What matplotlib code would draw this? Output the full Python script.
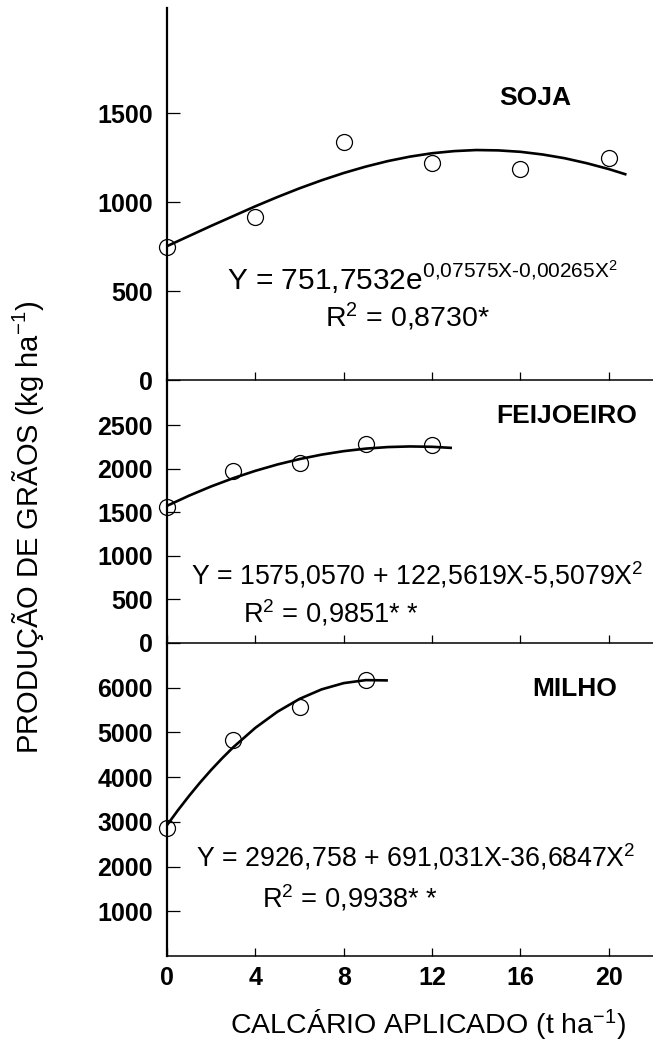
import matplotlib
matplotlib.use("Agg")
import matplotlib.pyplot as plt

plt.rcParams['font.family'] = ['Liberation Sans', 'DejaVu Sans']
plt.rcParams['mathtext.fontset'] = 'custom'
plt.rcParams['mathtext.rm'] = 'Liberation Sans'
plt.rcParams['mathtext.it'] = 'Liberation Sans'
plt.rcParams['mathtext.bf'] = 'Liberation Sans:bold'
plt.rcParams['mathtext.default'] = 'regular'

# ---------------- data ----------------
doses = [0, 4, 8, 12, 16, 20]
soja_obs = [745, 918, 1337, 1219, 1188, 1245]
soja_curve_x = [0, 1, 2, 3, 4, 5, 6, 7, 8, 9, 10, 11, 12, 13, 14, 15, 16, 17, 18, 19, 20, 20.8]
soja_curve_y = [752, 809, 866, 921, 976, 1028, 1077, 1122, 1163, 1199, 1230, 1255, 1274, 1286,
                1292, 1290, 1282, 1267, 1246, 1218, 1185, 1154]

feij_x = [0, 3, 6, 9, 12]
feij_obs = [1565, 1975, 2070, 2285, 2275]
feij_curve_x = [0, 1, 2, 3, 4, 5, 6, 7, 8, 9, 10, 11, 12, 12.9]
feij_curve_y = [1575, 1692, 1798, 1893, 1977, 2050, 2112, 2163, 2203, 2232, 2250, 2257, 2253, 2240]

milho_x = [0, 3, 6, 9]
milho_obs = [2870, 4830, 5570, 6180]
milho_curve_x = [0, 0.5, 1, 1.5, 2, 2.5, 3, 4, 5, 6, 7, 8, 9, 10]
milho_curve_y = [2927, 3263, 3581, 3881, 4162, 4424, 4669, 5103, 5463, 5750, 5963, 6103, 6170, 6163]

panels = [
    dict(name='SOJA', ox=doses, oy=soja_obs, cx=soja_curve_x, cy=soja_curve_y,
         ylim=2090, yticks=[0, 500, 1000, 1500],
         eq=r'Y = 751,7532e$^{\text{0,07575X-0,00265X}^{2}}$', r2=r'R$^2$ = 0,8730*',
         eqfs=21.5, r2fs=20.5,
         title_xy=(16.65, 1584), eq_xy=(2.7, 506), r2_xy=(7.15, 298)),
    dict(name='FEIJOEIRO', ox=feij_x, oy=feij_obs, cx=feij_curve_x, cy=feij_curve_y,
         ylim=3020, yticks=[0, 500, 1000, 1500, 2000, 2500],
         eq=r'Y = 1575,0570 + 122,5619X-5,5079X$^2$', r2=r'R$^2$ = 0,9851* *',
         eqfs=19.3, r2fs=19.6,
         title_xy=(18.1, 2609), eq_xy=(1.1, 667), r2_xy=(3.44, 241)),
    dict(name='MILHO', ox=milho_x, oy=milho_obs, cx=milho_curve_x, cy=milho_curve_y,
         ylim=7000, yticks=[1000, 2000, 3000, 4000, 5000, 6000],
         eq=r'Y = 2926,758 + 691,031X-36,6847X$^2$', r2=r'R$^2$ = 0,9938* *',
         eqfs=19.3, r2fs=19.6,
         title_xy=(18.46, 5973), eq_xy=(1.3, 1991), r2_xy=(4.3, 1074)),
]

W, H = 653, 1041
fig = plt.figure(figsize=(W / 100, H / 100), dpi=100)

left_px = 167
boxes = [(8, 380), (380, 643), (643, 956)]
xticks = [0, 4, 8, 12, 16, 20]

for i, (p, (top, bot)) in enumerate(zip(panels, boxes)):
    ax = fig.add_axes([left_px / W, 1 - bot / H, 1 - left_px / W, (bot - top) / H])
    ax.set_xlim(0, 22.0)
    ax.set_ylim(0, p['ylim'])
    for s in ['top', 'right']:
        ax.spines[s].set_visible(False)
    ax.spines['left'].set_linewidth(1.6)
    ax.spines['bottom'].set_linewidth(1.1)
    ax.plot(p['cx'], p['cy'], color='black', lw=1.9, solid_capstyle='butt',
            solid_joinstyle='round', zorder=3)
    ax.plot(p['ox'], p['oy'], linestyle='none', marker='o', markersize=11.5,
            markerfacecolor='none', markeredgecolor='black', markeredgewidth=0.9,
            clip_on=False, zorder=4)
    ax.set_yticks(p['yticks'])
    ax.set_yticklabels([str(v) for v in p['yticks']], fontsize=18, fontweight='bold')
    ax.tick_params(axis='y', direction='in', length=9, width=0.9, pad=10)
    ax.set_xticks(xticks)
    ax.tick_params(axis='x', direction='in', length=6, width=0.9, pad=7)
    if i < 2:
        ax.set_xticklabels([])
    else:
        ax.set_xticklabels([str(v) for v in xticks], fontsize=18, fontweight='bold')
    ax.text(*p['title_xy'], p['name'], ha='center', va='center', fontsize=19,
            fontweight='bold')
    ax.text(*p['eq_xy'], p['eq'], ha='left', va='baseline', fontsize=p['eqfs'])
    ax.text(*p['r2_xy'], p['r2'], ha='left', va='baseline', fontsize=p['r2fs'])
    ax.patch.set_alpha(0)

fig.text(28 / W, 1 - 527 / H, 'PRODUÇÃO DE GRÃOS (kg ha$^{-1}$)', rotation=90,
         ha='center', va='center', fontsize=21)
fig.text(428 / W, 1 - 1024 / H, 'CALCÁRIO APLICADO (t ha$^{-1}$)',
         ha='center', va='center', fontsize=20.5)

fig.savefig('out.png', dpi=100)
